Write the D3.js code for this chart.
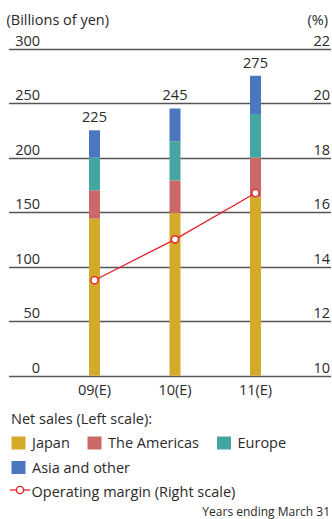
<!DOCTYPE html>
<html><head><meta charset="utf-8">
<script src="https://cdn.jsdelivr.net/npm/d3@7"></script>
<style>
body{margin:0;background:#fff;}
svg text{font-family:"Open Sans","Noto Sans",sans-serif;fill:#2a2a2a;}
</style></head>
<body><svg id="c" width="332" height="519"></svg>
<script>
const categories = ["09(E)", "10(E)", "11(E)"];
const japan = [144, 149, 164];
const americas = [26, 30, 36];
const europe = [30, 36, 40];
const asia = [25, 30, 35];
const totals = [225, 245, 275];
const margin = [13.5, 15.0, 16.7];
const leftTicks = [0, 50, 100, 150, 200, 250, 300];
const rightTicks = [10, 12, 14, 16, 18, 20, 22];
const seriesNames = ["Japan", "The Americas", "Europe", "Asia and other"];
const colors = ["#D3AA2A", "#CC6868", "#44A6A1", "#4A77BF"];

const fs = 14.5;
const svg = d3.select("#c");
const yL = d3.scaleLinear().domain([0, 300]).range([375.7, 48.5]);
const yR = d3.scaleLinear().domain([10, 22]).range([375.7, 48.5]);
const x = d3.scalePoint().domain(categories).range([94.5, 255.5]);
const bw = 11;

// gridlines
const grid = svg.append("g");
grid.selectAll("line").data(leftTicks).join("line")
  .attr("x1", 9).attr("x2", 331)
  .attr("y1", d => Math.round(yL(d)) + 0.5).attr("y2", d => Math.round(yL(d)) + 0.5)
  .attr("stroke", "#555").attr("stroke-width", 1.3);
grid.selectAll("text.l").data(leftTicks).join("text").attr("class", "l")
  .attr("x", 40).attr("y", d => yL(d) - 3).attr("text-anchor", "end")
  .attr("font-size", fs).text(d => d);
grid.selectAll("text.r").data(rightTicks).join("text").attr("class", "r")
  .attr("x", 330).attr("y", d => yR(d) - 3).attr("text-anchor", "end")
  .attr("font-size", fs).text(d => d);

svg.append("text").attr("x", 6.5).attr("y", 25).attr("font-size", fs).text("(Billions of yen)");
svg.append("text").attr("x", 328).attr("y", 25).attr("font-size", fs).attr("text-anchor", "end").text("(%)");

// stacked bars
const rows = categories.map((c, i) => ({cat: c, Japan: japan[i], "The Americas": americas[i], Europe: europe[i], "Asia and other": asia[i]}));
const stack = d3.stack().keys(seriesNames)(rows);
svg.append("g").selectAll("g").data(stack).join("g")
  .attr("fill", (d, i) => colors[i])
  .selectAll("rect").data(d => d).join("rect")
  .attr("x", d => x(d.data.cat) - bw / 2).attr("width", bw)
  .attr("y", d => yL(d[1])).attr("height", d => yL(d[0]) - yL(d[1]));

// totals
svg.append("g").selectAll("text").data(totals).join("text")
  .attr("x", (d, i) => x(categories[i])).attr("y", d => yL(d) - 8)
  .attr("text-anchor", "middle").attr("font-size", fs).text(d => d);

// x labels
svg.append("g").selectAll("text").data(categories).join("text")
  .attr("x", d => x(d)).attr("y", 395).attr("text-anchor", "middle")
  .attr("font-size", fs).text(d => d);

// line
const red = "#E5202A";
const line = d3.line().x((d, i) => x(categories[i])).y(d => yR(d));
svg.append("path").datum(margin).attr("d", line).attr("fill", "none")
  .attr("stroke", red).attr("stroke-width", 1.3);
svg.append("g").selectAll("circle").data(margin).join("circle")
  .attr("cx", (d, i) => x(categories[i])).attr("cy", d => yR(d)).attr("r", 3.6)
  .attr("fill", "#fff").attr("stroke", red).attr("stroke-width", 1.4);

// legend
const lg = svg.append("g");
lg.append("text").attr("x", 11).attr("y", 424).attr("font-size", fs).text("Net sales (Left scale):");
const legPos = [[11, 448], [87, 448], [216.5, 448], [11, 472.5]];
seriesNames.forEach((n, i) => {
  const [lx, ly] = legPos[i];
  lg.append("rect").attr("x", lx + 0.5).attr("y", ly - 11.5).attr("width", 14).attr("height", 13).attr("fill", colors[i]);
  lg.append("text").attr("x", lx + 21).attr("y", ly).attr("font-size", fs).text(n);
});
lg.append("line").attr("x1", 10).attr("x2", 30).attr("y1", 490).attr("y2", 490).attr("stroke", red).attr("stroke-width", 1.3);
lg.append("circle").attr("cx", 20).attr("cy", 490).attr("r", 3.6).attr("fill", "#fff").attr("stroke", red).attr("stroke-width", 1.4);
lg.append("text").attr("x", 31.5).attr("y", 496.5).attr("font-size", fs).text("Operating margin (Right scale)");
svg.append("text").attr("x", 330).attr("y", 516).attr("font-size", 12).attr("text-anchor", "end").text("Years ending March 31");
</script></body></html>
